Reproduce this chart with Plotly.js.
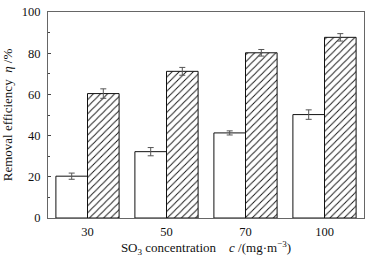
<!DOCTYPE html>
<html><head><meta charset="utf-8">
<script src="https://cdn.plot.ly/plotly-3.0.1.min.js"></script>
<style>html,body{margin:0;padding:0;background:#fff}#c{width:373px;height:258px}</style>
</head><body><div id="c"></div>
<script>
const categories = ["30", "50", "70", "100"];
const seriesA = [20.3, 32.2, 41.3, 50.2];
const errA = [1.5, 2.0, 1.0, 2.3];
const seriesB = [60.4, 71.2, 80.2, 87.7];
const errB = [2.3, 1.9, 1.6, 1.8];
const yTicks = [0, 20, 40, 60, 80, 100];

const font = {family: "Liberation Serif, Times New Roman, serif", size: 12.5, color: "#111"};
const titleFont = {family: "Liberation Serif, Times New Roman, serif", size: 13, color: "#111"};
const traces = [
  {type: "bar", x: categories, y: seriesA, name: "A",
   marker: {color: "#fff", line: {color: "#111", width: 1}},
   error_y: {type: "data", array: errA, visible: true, color: "#555", thickness: 1, width: 3}},
  {type: "bar", x: categories, y: seriesB, name: "B",
   marker: {color: "#fff", line: {color: "#111", width: 1},
            pattern: {shape: "/", fgcolor: "#111", bgcolor: "#fff", size: 5, solidity: 0.18}},
   error_y: {type: "data", array: errB, visible: true, color: "#555", thickness: 1, width: 3}}
];
const layout = {
  width: 373, height: 258,
  margin: {l: 48, r: 9, t: 12, b: 40},
  paper_bgcolor: "#fff", plot_bgcolor: "#fff",
  font: font, showlegend: false,
  barmode: "group", bargap: 0.2, bargroupgap: 0,
  xaxis: {type: "category", range: [-0.5, 3.5], showline: true, linecolor: "#666", linewidth: 1, mirror: true,
          ticks: "", showgrid: false, zeroline: false, tickfont: font, ticklabelstandoff: 2,
          title: {text: "SO<sub>3</sub> concentration    <i>c</i> /(mg·m<sup>−3</sup>)", font: titleFont, standoff: 3}},
  yaxis: {range: [0, 100], tickvals: yTicks, showline: true, linecolor: "#666", linewidth: 1, mirror: true,
          ticks: "inside", ticklen: 3, tickcolor: "#444", showgrid: false, zeroline: false, tickfont: font,
          ticklabelstandoff: 4,
          minor: {dtick: 10, ticks: "inside", ticklen: 2, tickcolor: "#444"},
          title: {text: "Removal efficiency  <i>η</i> /%", font: titleFont, standoff: 6}}
};
Plotly.newPlot("c", traces, layout, {displayModeBar: false, staticPlot: true});
</script></body></html>
